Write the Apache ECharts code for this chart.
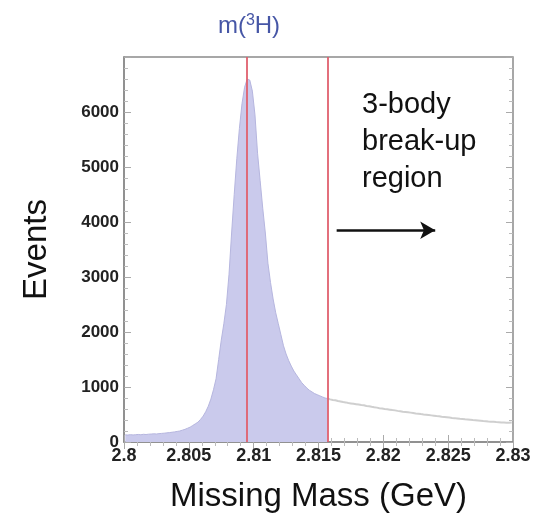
<!DOCTYPE html>
<html>
<head>
<meta charset="utf-8">
<script src="https://cdn.jsdelivr.net/npm/echarts@6/dist/echarts.min.js"></script>
<style>html,body{margin:0;padding:0;background:#fff;}#c{width:533px;height:514px;}</style>
</head>
<body>
<div id="c"></div>
<script>
// ---- data ----
const binStart = 2.8;
const binWidth = 0.0002;
const counts = [
  130,126,134,128,133,137,132,140,136,142,145,149,146,152,156,160,166,171,177,184,192,200,
  215,230,250,270,300,330,360,410,470,550,650,780,950,1150,1500,1850,2150,
  2500,3050,3800,4500,5150,5700,6150,6450,6600,6580,6380,5950,5250,4750,4250,3800,3250,2900,2600,2350,
  2150,1950,1750,1600,1480,1380,1290,1220,1150,1080,1030,980,940,910,880,860,840,820,800,790,
  775,765,758,745,738,726,720,708,702,695,
  688,680,672,668,655,650,640,632,625,615,
  608,600,596,588,580,575,566,560,552,546,
  540,534,528,520,515,508,502,496,490,484,
  478,472,468,460,455,450,444,438,434,428,
  422,418,412,408,404,398,394,390,386,380,
  376,372,370,366,362,360,356,354,352,350,355
];
const peakMass = 2.8095;      // m(3H) line
const regionEdge = 2.8157;    // start of 3-body break-up region
const arrowFrom = [2.8164, 3850];
const arrowTo = [2.8240, 3850];
const xTicks = [2.8, 2.805, 2.81, 2.815, 2.82, 2.825, 2.83];
const yMax = 7000;

const centers = counts.map((c, i) => +(binStart + (i + 0.5) * binWidth).toFixed(5));
const peakData = [], tailData = [];
centers.forEach((x, i) => {
  if (x <= regionEdge + 1e-9) peakData.push([x, counts[i]]);
  if (x >= regionEdge - 1e-9) tailData.push([x, counts[i]]);
});

const chart = echarts.init(document.getElementById('c'), null, {renderer: 'canvas'});
const labelFont = {fontFamily: 'Liberation Sans, Arial, sans-serif', fontWeight: 'bold', color: '#222'};
const frameColor = '#8a8a8a';
chart.setOption({
  animation: false,
  backgroundColor: '#fff',
  title: {
    text: 'm({s|3}H)',
    left: 244, top: 8, textAlign: 'center',
    textStyle: {
      fontFamily: 'Liberation Sans, Arial, sans-serif', fontSize: 24, fontWeight: 'normal', color: '#4656a6',
      rich: {s: {fontSize: 16, color: '#4656a6', verticalAlign: 'top', padding: [0, 0, 10, 0]}}
    }
  },
  grid: {left: 124, right: 20, top: 57, bottom: 72, show: true, borderColor: frameColor, borderWidth: 1.5,
         containLabel: false, outerBoundsMode: 'none'},
  xAxis: [{
    type: 'value', min: 2.8, max: 2.83, interval: 0.005,
    name: 'Missing Mass (GeV)', nameLocation: 'middle', nameGap: 38,
    nameTextStyle: {fontFamily: 'Liberation Sans, Arial, sans-serif', fontSize: 33, color: '#111'},
    axisLine: {show: true, lineStyle: {color: frameColor, width: 1.5}},
    axisTick: {show: true, inside: true, length: 7, lineStyle: {color: '#aaa'}},
    minorTick: {show: true, splitNumber: 5, length: 4, lineStyle: {color: '#bbb'}},
    splitLine: {show: false},
    axisLabel: Object.assign({fontSize: 18, margin: 5, formatter: v => xTicks.indexOf(+v.toFixed(3)) >= 0 ? String(+v.toFixed(3)) : ''}, labelFont)
  }, {
    type: 'value', min: 2.8, max: 2.83, interval: 0.005, position: 'top',
    axisLine: {show: false}, axisLabel: {show: false}, splitLine: {show: false},
    axisTick: {show: true, inside: true, length: 7, lineStyle: {color: '#aaa'}},
    minorTick: {show: true, splitNumber: 5, length: 4, lineStyle: {color: '#bbb'}}
  }],
  yAxis: [{
    type: 'value', min: 0, max: yMax, interval: 1000,
    name: 'Events', nameLocation: 'middle', nameGap: 71, nameRotate: 90,
    nameTextStyle: {fontFamily: 'Liberation Sans, Arial, sans-serif', fontSize: 33, color: '#111'},
    axisLine: {show: true, lineStyle: {color: frameColor, width: 1.5}},
    axisTick: {show: true, inside: true, length: 7, lineStyle: {color: '#aaa'}},
    minorTick: {show: true, splitNumber: 5, length: 4, lineStyle: {color: '#bbb'}},
    splitLine: {show: false},
    axisLabel: Object.assign({fontSize: 17, margin: 5, formatter: v => v === yMax ? '' : String(v)}, labelFont)
  }, {
    type: 'value', min: 0, max: yMax, interval: 1000, position: 'right',
    axisLine: {show: false}, axisLabel: {show: false}, splitLine: {show: false},
    axisTick: {show: true, inside: true, length: 7, lineStyle: {color: '#aaa'}},
    minorTick: {show: true, splitNumber: 5, length: 4, lineStyle: {color: '#bbb'}}
  }],
  series: [{
    type: 'line', data: peakData, symbol: 'none',
    lineStyle: {color: '#b6b6df', width: 1},
    areaStyle: {color: '#cacaec', opacity: 1}
  }, {
    type: 'line', data: tailData, symbol: 'none',
    lineStyle: {color: '#cfcfcf', width: 2}
  }, {
    type: 'line', data: [], symbol: 'none',
    markLine: {
      silent: true, symbol: 'none', label: {show: false}, precision: 5,
      lineStyle: {color: '#e0606e', width: 1.8, type: 'solid'},
      data: [
        [{coord: [peakMass, 0]}, {coord: [peakMass, yMax]}],
        [{coord: [regionEdge, 0]}, {coord: [regionEdge, yMax]}]
      ]
    }
  }, {
    type: 'line', data: [], symbol: 'none',
    markLine: {
      silent: true, symbol: ['none', 'arrow'], symbolSize: [13, 15], label: {show: false}, precision: 5,
      lineStyle: {color: '#111', width: 2.5, type: 'solid'},
      data: [[{coord: arrowFrom}, {coord: arrowTo}]]
    }
  }],
  graphic: [{
    type: 'text', left: 362, top: 86,
    style: {
      text: '3-body\nbreak-up\nregion', fill: '#111',
      font: '29px "Liberation Sans", Arial, sans-serif', lineHeight: 37
    }
  }]
});
</script>
</body>
</html>
